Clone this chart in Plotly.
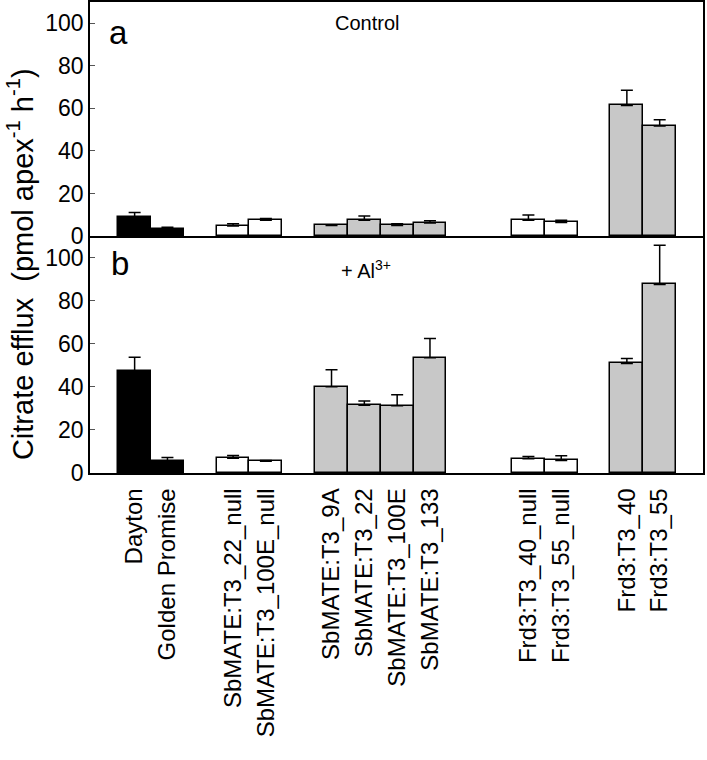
import plotly.graph_objects as go

# ---- data ----
categories = ["Dayton", "Golden Promise",
              "SbMATE:T3_22_null", "SbMATE:T3_100E_null",
              "SbMATE:T3_9A", "SbMATE:T3_22", "SbMATE:T3_100E", "SbMATE:T3_133",
              "Frd3:T3_40_null", "Frd3:T3_55_null",
              "Frd3:T3_40", "Frd3:T3_55"]
group_sizes = [2, 2, 4, 2, 2]
group_gaps = [1, 1, 2, 1]

control = [8.8, 3.1, 4.7, 7.4, 5.0, 7.5, 5.0, 6.1, 7.4, 6.4, 61.4, 51.7]
control_err = [2.3, 1.1, 1.1, 0.9, 0.3, 1.9, 0.8, 1.1, 2.5, 1.1, 7.1, 3.0]
aluminium = [47.5, 5.4, 6.8, 5.5, 40.1, 31.5, 31.2, 53.5, 6.6, 5.8, 50.9, 87.5]
aluminium_err = [6.3, 1.8, 1.3, 0.3, 7.8, 1.9, 5.1, 8.9, 1.1, 2.2, 2.3, 18.3]

group_colors = ["black", "white", "#c8c8c8", "white", "#c8c8c8"]
y_ticks = [0, 20, 40, 60, 80, 100]

# ---- positions from group layout ----
xpos, colors = [], []
p = 0
for gi, n in enumerate(group_sizes):
    for _ in range(n):
        xpos.append(p)
        colors.append(group_colors[gi])
        p += 1
    if gi < len(group_gaps):
        p += group_gaps[gi]

FONT = "Liberation Sans, Arial, sans-serif"

def bar(values, errs, xa, ya):
    return go.Bar(
        x=xpos, y=values, width=1.0,
        marker=dict(color=colors, line=dict(color="black", width=1.5)),
        error_y=dict(type="data", symmetric=False, array=errs,
                     arrayminus=[0] * len(errs), color="black",
                     thickness=1.5, width=6),
        xaxis=xa, yaxis=ya, showlegend=False, hoverinfo="skip",
    )

fig = go.Figure()
fig.add_trace(bar(control, control_err, "x2", "y2"))
fig.add_trace(bar(aluminium, aluminium_err, "x", "y"))

xrange = [-1.36, xpos[-1] + 1.32]
axis_common = dict(showline=True, linecolor="black", linewidth=1.5,
                   showgrid=False, zeroline=False, automargin=False)
yaxis_common = dict(axis_common, mirror=True, range=[0, 110], tickvals=y_ticks,
                    ticks="inside", ticklen=5, tickcolor="#555", tickwidth=1,
                    tickfont=dict(size=23, color="black", family=FONT))

split = 0.503
fig.update_layout(
    width=707, height=760, autosize=False,
    margin=dict(l=90, r=4, t=2, b=287),
    paper_bgcolor="white", plot_bgcolor="white",
    font=dict(family=FONT, color="black"),
    bargap=0,
    xaxis=dict(axis_common, mirror=False, domain=[0, 1], anchor="y", range=xrange,
               tickvals=xpos, ticktext=categories, tickangle=-90,
               ticks="", ticklabelstandoff=4,
               tickfont=dict(size=24, color="black", family=FONT)),
    xaxis2=dict(axis_common, mirror=True, domain=[0, 1], anchor="y2", matches="x",
                range=xrange, showticklabels=False, ticks=""),
    yaxis=dict(yaxis_common, domain=[0, split], anchor="x"),
    yaxis2=dict(yaxis_common, domain=[split, 1], anchor="x2"),
)

fig.add_annotation(text="Citrate efflux  (pmol apex<sup>-1</sup> h<sup>-1</sup>)",
                   xref="paper", yref="paper", x=-0.113, y=0.443,
                   textangle=-90, showarrow=False, xanchor="center", yanchor="middle",
                   font=dict(size=29, color="black", family=FONT))
fig.add_annotation(text="a", xref="paper", yref="paper", x=0.046, y=0.935,
                   showarrow=False, xanchor="center", yanchor="middle",
                   font=dict(size=33, color="black", family=FONT))
fig.add_annotation(text="b", xref="paper", yref="paper", x=0.049, y=0.445,
                   showarrow=False, xanchor="center", yanchor="middle",
                   font=dict(size=33, color="black", family=FONT))
fig.add_annotation(text="Control", xref="paper", yref="paper", x=0.452, y=0.955,
                   showarrow=False, xanchor="center", yanchor="middle",
                   font=dict(size=20, color="black", family=FONT))
fig.add_annotation(text="+ Al<sup>3+</sup>", xref="paper", yref="paper", x=0.450, y=0.433,
                   showarrow=False, xanchor="center", yanchor="middle",
                   font=dict(size=20, color="black", family=FONT))

fig.write_html("out.html", config={"responsive": False, "displayModeBar": False},
               post_script="document.body.style.margin='0px';document.body.style.overflow='hidden';")
